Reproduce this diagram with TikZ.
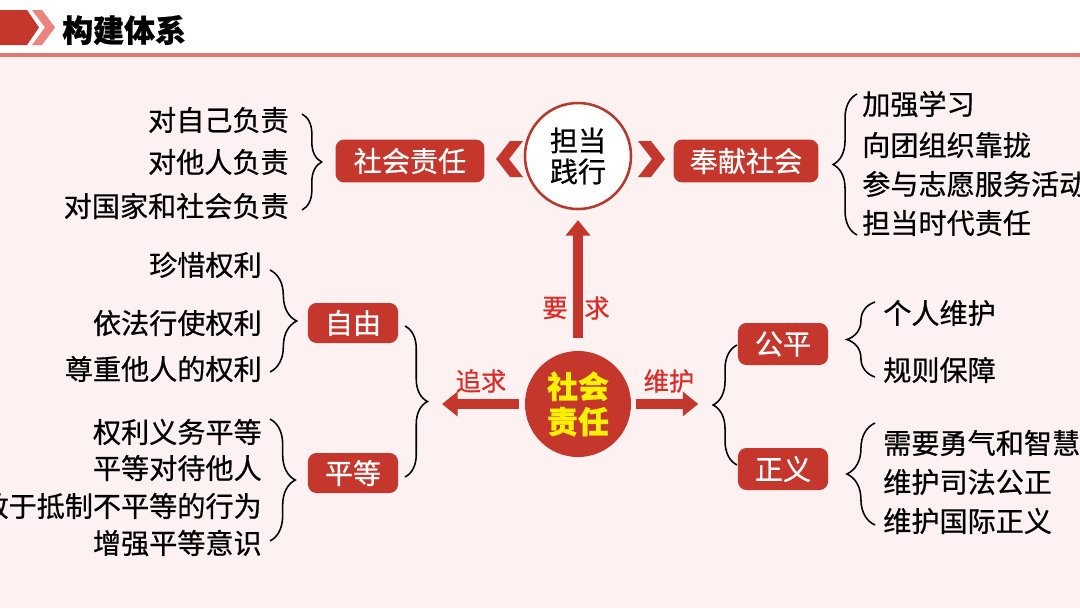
\documentclass[tikz,border=0pt]{standalone}
\usepackage{fontspec}
\newfontfamily\cjk{Noto Sans CJK SC}[FakeBold=0.6]
\usetikzlibrary{arrows.meta, positioning, decorations.pathreplacing}
\definecolor{bg-pink}{HTML}{FDF2F1}
\definecolor{box-red}{HTML}{C5372C}
\definecolor{ring-red}{HTML}{B5382C}
\definecolor{label-red}{HTML}{DD2A25}
\definecolor{rule-line}{HTML}{E2776E}
\definecolor{tab-light}{HTML}{E9857C}
\definecolor{core-yellow}{HTML}{FFF200}
\tikzset{
  rbox/.style={
    fill=box-red, rounded corners=6pt, text=white, inner sep=0pt,
    minimum height=1.07cm, font=\cjk\fontsize{20}{24}\selectfont
  },
  item/.style={font=\cjk\fontsize{20}{24}\selectfont, inner sep=0pt},
  rlabel/.style={font=\cjk\fontsize{18}{20}\selectfont, text=label-red, inner sep=0pt},
  bigarrow/.style={draw=box-red, line width=7pt, -{Triangle[width=17pt,length=11pt]}},
  kbrace/.style={decorate, decoration={brace, amplitude=#1}, line width=1.1pt},
  kbrace/.default=15pt
}

\begin{document}
\begin{tikzpicture}[x=0.025cm, y=-0.025cm]
  \useasboundingbox (0,0) rectangle (1080,608);

  % ---- Page background and header --------------------------------------
  \fill[white] (0,0) rectangle (1080,54);
  \fill[bg-pink] (0,54) rectangle (1080,608);
  \draw[rule-line, line width=2.2pt] (0,55) -- (1080,55);
  \fill[box-red] (0,10) -- (27,10) -- (39,27.5) -- (27,45) -- (0,45) -- cycle;
  \fill[tab-light] (32,10) -- (42,10) -- (55,27.5) -- (42,45) -- (32,45) -- (45,27.5) -- cycle;
  \node[anchor=west, inner sep=0pt, font=\cjk\bfseries\fontsize{22}{24}\selectfont] (title) at (62,30) {构建体系};

  % ---- Top row: 担当践行 with its two branches ----------------------------
  \node[circle, draw=ring-red, line width=1.8pt, fill=white, minimum size=2.65cm,
        inner sep=0pt, align=center, font=\cjk\fontsize{20}{22}\selectfont] (duty) at (578,156) {担当\\践行};
  \node[rbox, minimum width=3.72cm] (resp) at (410,161) {社会责任};
  \node[rbox, minimum width=3.62cm] (serve) at (746,161) {奉献社会};
  \fill[box-red] (523,141) -- (510,141) -- (496,159) -- (510,177) -- (523,177) -- (509,159) -- cycle;
  \fill[box-red] (638,141) -- (651,141) -- (665,159) -- (651,177) -- (638,177) -- (652,159) -- cycle;

  \foreach \txt/\yy [count=\k] in {对自己负责/120, 对他人负责/162, 对国家和社会负责/206}
    \node[item, anchor=east] (resp-\k) at (289,\yy) {\txt};
  \coordinate (resp-bt) at (302,114);
  \coordinate (resp-bb) at (302,210);
  \draw[kbrace=14pt] (resp-bt) -- (resp-bb);

  \foreach \txt/\yy [count=\k] in {加强学习/104, 向团组织靠拢/145, 参与志愿服务活动/184, 担当时代责任/223}
    \node[item, anchor=west] (serve-\k) at (862,\yy) {\txt};
  \coordinate (serve-bt) at (857,94);
  \coordinate (serve-bb) at (857,235);
  \draw[kbrace=17pt] (serve-bb) -- (serve-bt);

  % ---- Core: 社会责任 ------------------------------------------------------
  \node[circle, fill=box-red, minimum size=2.65cm, inner sep=0pt, align=center,
        text=core-yellow, font=\cjk\bfseries\fontsize{22}{25}\selectfont] (core) at (578,404) {社会\\责任};
  \draw[bigarrow, shorten <=9pt, shorten >=7pt] (core) -- (duty);
  \node[rlabel] (req-a) at (555,308) {要};
  \node[rlabel] (req-b) at (597,308) {求};

  % ---- Left branch: 追求 自由 / 平等 ----------------------------------------
  \coordinate (pursue-tip) at (428,404);
  \draw[bigarrow, shorten <=4pt, shorten >=10pt] (core) -- (pursue-tip);
  \node[rlabel] (pursue) at (481,381) {追求};
  \coordinate (pursue-bt) at (405,326);
  \coordinate (pursue-bb) at (405,477);
  \draw[kbrace=16pt] (pursue-bt) -- (pursue-bb);

  \node[rbox, minimum width=2.25cm, minimum height=1.0cm] (free) at (353,323) {自由};
  \node[rbox, minimum width=2.25cm, minimum height=1.0cm] (equal) at (353,473) {平等};

  \foreach \txt/\yy [count=\k] in {珍惜权利/265, 依法行使权利/323, 尊重他人的权利/369}
    \node[item, anchor=east] (free-\k) at (262,\yy) {\txt};
  \coordinate (free-bt) at (270,270);
  \coordinate (free-bb) at (270,372);
  \draw[kbrace=19pt] (free-bt) -- (free-bb);

  \foreach \txt/\yy [count=\k] in {权利义务平等/432, 平等对待他人/468, 敢于抵制不平等的行为/506, 增强平等意识/543}
    \node[item, anchor=east] (equal-\k) at (262,\yy) {\txt};
  \coordinate (equal-bt) at (270,419);
  \coordinate (equal-bb) at (270,541);
  \draw[kbrace=18pt] (equal-bt) -- (equal-bb);

  % ---- Right branch: 维护 公平 / 正义 ---------------------------------------
  \coordinate (guard-tip) at (713,404);
  \draw[bigarrow, shorten <=3pt, shorten >=10.5pt] (core) -- (guard-tip);
  \node[rlabel] (guard) at (669,381) {维护};
  \coordinate (guard-bt) at (737,345);
  \coordinate (guard-bb) at (737,465);
  \draw[kbrace=17pt] (guard-bb) -- (guard-bt);

  \node[rbox, minimum width=2.25cm, minimum height=1.05cm] (fair) at (783,344) {公平};
  \node[rbox, minimum width=2.25cm, minimum height=1.05cm] (just) at (783,469) {正义};

  \foreach \txt/\yy [count=\k] in {个人维护/313, 规则保障/370}
    \node[item, anchor=west] (fair-\k) at (883,\yy) {\txt};
  \coordinate (fair-bt) at (875,302);
  \coordinate (fair-bb) at (875,377);
  \draw[kbrace=20pt] (fair-bb) -- (fair-bt);

  \foreach \txt/\yy [count=\k] in {需要勇气和智慧/443, 维护司法公正/482, 维护国际正义/521}
    \node[item, anchor=west] (just-\k) at (883,\yy) {\txt};
  \coordinate (just-bt) at (875,423);
  \coordinate (just-bb) at (875,525);
  \draw[kbrace=20pt] (just-bb) -- (just-bt);

\end{tikzpicture}
\end{document}
